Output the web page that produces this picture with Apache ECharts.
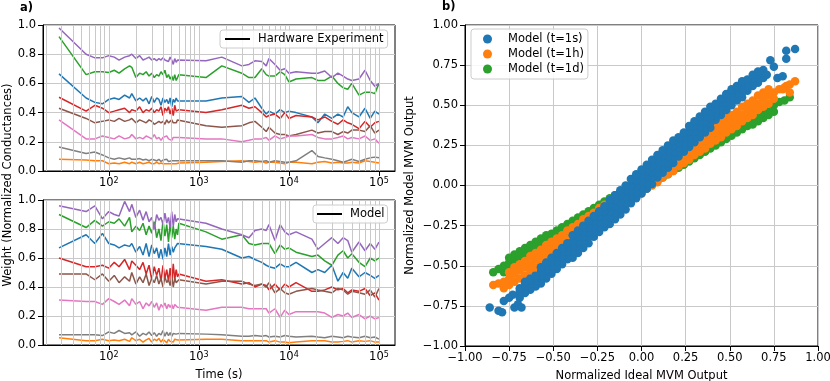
<!DOCTYPE html>
<html>
<head>
<meta charset="utf-8">
<script src="https://cdn.jsdelivr.net/npm/echarts@6/dist/echarts.min.js"></script>
<style>
  html, body { margin: 0; padding: 0; background: #fff; }
  #main { width: 830px; height: 381px; }
</style>
</head>
<body>
<div id="main"></div>
<script>
// measurement times (s)
const times = [28, 56, 70, 85, 100, 115, 130, 150, 170, 180, 200, 220, 240, 260, 280, 300, 320, 340, 360, 380,
  400, 420, 440, 460, 480, 500, 520, 540, 560, 580, 600, 1200, 1800, 3000, 3600, 4200, 5000, 5600, 6000, 7000,
  8000, 9000, 10000, 12000, 18000, 21000, 25000, 30000, 35000, 40000, 45000, 50000, 60000, 70000, 80000, 90000, 100000];

// a) hardware experiment
const hwBlue = [0.665,0.50,0.47,0.46,0.49, 0.50,0.49,0.52,0.50,0.53, 0.48,0.50,0.48,0.50,0.46, 0.51,0.47,0.50,0.49,0.45,
  0.50,0.47,0.49,0.46,0.50, 0.44,0.49,0.47,0.50,0.48, 0.47,0.48,0.50,0.51,0.47, 0.50,0.43,0.39,0.41,0.39,
  0.42,0.40,0.41,0.40,0.37, 0.33,0.39,0.36,0.39,0.37, 0.44,0.40,0.37,0.43,0.36, 0.41,0.39];
const hwOrange = [0.08,0.075,0.07,0.07,0.05, 0.055,0.05,0.06,0.05,0.06, 0.05,0.06,0.05,0.055,0.06, 0.05,0.05,0.06,0.05,0.055,
  0.05,0.06,0.05,0.055,0.05, 0.06,0.05,0.055,0.05,0.06, 0.055,0.06,0.065,0.07,0.065, 0.06,0.065,0.055,0.06,0.06,
  0.055,0.05,0.06,0.06,0.05, 0.06,0.065,0.055,0.06,0.055, 0.055,0.06,0.055,0.07,0.065, 0.06,0.055];
const hwGreen = [0.92,0.66,0.68,0.68,0.675, 0.69,0.67,0.70,0.72,0.71, 0.64,0.67,0.66,0.68,0.65, 0.67,0.64,0.66,0.65,0.68,
  0.66,0.69,0.64,0.66,0.63, 0.65,0.62,0.66,0.62,0.64, 0.66,0.64,0.72,0.67,0.64, 0.64,0.70,0.66,0.65,0.65,
  0.68,0.66,0.61,0.63,0.64, 0.62,0.62,0.65,0.60,0.57, 0.56,0.60,0.52,0.54,0.54, 0.53,0.60];
const hwRed = [0.505,0.41,0.45,0.43,0.40, 0.41,0.42,0.43,0.40,0.42, 0.41,0.44,0.40,0.42,0.41, 0.43,0.40,0.42,0.41,0.44,
  0.38,0.43,0.41,0.44,0.39, 0.43,0.38,0.45,0.41,0.42, 0.42,0.40,0.42,0.45,0.43, 0.44,0.40,0.37,0.38,0.39,
  0.36,0.40,0.36,0.38,0.37, 0.35,0.37,0.34,0.32,0.35, 0.33,0.32,0.29,0.34,0.30, 0.33,0.34];
const hwPurple = [0.98,0.80,0.775,0.775,0.79, 0.78,0.76,0.78,0.79,0.80, 0.77,0.79,0.76,0.77,0.78, 0.76,0.77,0.755,0.77,0.76,
  0.775,0.76,0.77,0.75,0.78, 0.76,0.73,0.77,0.745,0.76, 0.755,0.755,0.78,0.72,0.73, 0.755,0.75,0.72,0.77,0.73,
  0.69,0.70,0.67,0.68,0.67, 0.67,0.685,0.64,0.67,0.65, 0.63,0.62,0.63,0.69,0.62, 0.58,0.60];
const hwBrown = [0.43,0.36,0.33,0.34,0.35, 0.34,0.36,0.34,0.35,0.36, 0.33,0.35,0.34,0.33,0.35, 0.34,0.32,0.33,0.34,0.33,
  0.34,0.32,0.35,0.33,0.34, 0.35,0.33,0.34,0.33,0.35, 0.34,0.31,0.30,0.31,0.33, 0.34,0.30,0.27,0.30,0.26,
  0.25,0.25,0.24,0.25,0.28, 0.26,0.27,0.27,0.25,0.27, 0.26,0.28,0.28,0.27,0.31, 0.26,0.28];
const hwPink = [0.35,0.22,0.22,0.24,0.23, 0.22,0.24,0.22,0.23,0.25, 0.22,0.23,0.22,0.24,0.23, 0.22,0.25,0.22,0.23,0.21,
  0.23,0.22,0.24,0.22,0.23, 0.21,0.23,0.22,0.23,0.22, 0.23,0.22,0.22,0.20,0.21, 0.22,0.22,0.23,0.21,0.24,
  0.22,0.23,0.24,0.24,0.25, 0.23,0.22,0.22,0.23,0.24, 0.22,0.23,0.22,0.24,0.21, 0.22,0.19];
const hwGray = [0.165,0.12,0.13,0.11,0.09, 0.08,0.09,0.08,0.09,0.08, 0.08,0.085,0.075,0.08,0.07, 0.08,0.075,0.07,0.08,0.065,
  0.075,0.07,0.08,0.065,0.075, 0.07,0.08,0.07,0.075,0.07, 0.07,0.07,0.07,0.06,0.07, 0.07,0.065,0.07,0.06,0.07,
  0.065,0.06,0.06,0.07,0.14, 0.10,0.09,0.08,0.07,0.06, 0.07,0.08,0.065,0.08,0.09, 0.095,0.09];

// a) model
const mdBlue = [0.67,0.76,0.70,0.77,0.70, 0.69,0.67,0.69,0.68,0.70, 0.64,0.68,0.62,0.70,0.61, 0.69,0.63,0.67,0.60,0.66,
  0.59,0.67,0.61,0.70,0.62, 0.68,0.64,0.67,0.66,0.70, 0.69,0.68,0.66,0.60,0.61, 0.59,0.57,0.55,0.54,0.53,
  0.56,0.54,0.54,0.57,0.50, 0.52,0.50,0.55,0.44,0.50, 0.46,0.53,0.47,0.50,0.48, 0.46,0.48];
const mdOrange = [0.05,0.03,0.03,0.04,0.03, 0.035,0.03,0.04,0.025,0.05, 0.03,0.04,0.02,0.035,0.045, 0.02,0.04,0.03,0.045,0.02,
  0.04,0.03,0.015,0.04,0.025, 0.035,0.02,0.04,0.03,0.035, 0.04,0.04,0.04,0.03,0.03, 0.03,0.03,0.03,0.02,0.03,
  0.02,0.02,0.015,0.02,0.03, 0.03,0.03,0.02,0.02,0.025, 0.03,0.02,0.03,0.025,0.03, 0.02,0.02];
const mdGreen = [0.90,0.81,0.86,0.82,0.85, 0.84,0.87,0.82,0.88,0.78, 0.82,0.79,0.84,0.76,0.82, 0.77,0.85,0.74,0.80,0.72,
  0.86,0.75,0.83,0.71,0.84, 0.74,0.82,0.73,0.80,0.76, 0.84,0.78,0.73,0.76,0.70, 0.69,0.70,0.70,0.70,0.63,
  0.69,0.66,0.67,0.64,0.61, 0.62,0.58,0.55,0.62,0.65, 0.60,0.63,0.57,0.54,0.60, 0.58,0.60];
const mdRed = [0.60,0.54,0.54,0.55,0.53, 0.57,0.54,0.59,0.52,0.58, 0.55,0.52,0.57,0.49,0.55, 0.45,0.54,0.48,0.53,0.44,
  0.55,0.46,0.52,0.44,0.53, 0.43,0.56,0.45,0.52,0.47, 0.49,0.44,0.45,0.42,0.43, 0.40,0.42,0.41,0.38,0.42,
  0.38,0.42,0.40,0.43,0.37, 0.37,0.38,0.40,0.38,0.39, 0.36,0.38,0.37,0.39,0.34, 0.36,0.31];
const mdPurple = [0.96,0.92,0.96,0.87,0.92, 0.90,0.89,0.99,0.92,0.97, 0.88,0.93,0.86,0.92,0.85, 0.88,0.80,0.90,0.86,0.88,
  0.83,0.91,0.84,0.88,0.81, 0.92,0.82,0.90,0.85,0.87, 0.86,0.84,0.80,0.76,0.74, 0.79,0.80,0.79,0.83,0.72,
  0.83,0.78,0.76,0.78,0.73, 0.66,0.70,0.74,0.70,0.74, 0.72,0.64,0.71,0.65,0.70, 0.66,0.71];
const mdBrown = [0.49,0.49,0.45,0.49,0.44, 0.48,0.43,0.47,0.44,0.50, 0.42,0.47,0.43,0.49,0.41, 0.46,0.43,0.48,0.42,0.46,
  0.40,0.47,0.43,0.45,0.41, 0.47,0.40,0.46,0.43,0.44, 0.45,0.42,0.44,0.44,0.42, 0.41,0.42,0.40,0.43,0.36,
  0.39,0.36,0.35,0.37,0.39, 0.38,0.37,0.36,0.39,0.38, 0.35,0.37,0.36,0.35,0.38, 0.33,0.39];
const mdPink = [0.31,0.30,0.30,0.28,0.32, 0.30,0.28,0.31,0.27,0.32, 0.28,0.30,0.25,0.29,0.27, 0.30,0.26,0.29,0.24,0.28,
  0.26,0.29,0.25,0.28,0.26, 0.28,0.25,0.28,0.27,0.26, 0.26,0.24,0.26,0.26,0.25, 0.25,0.25,0.25,0.22,0.25,
  0.19,0.24,0.21,0.23,0.23, 0.23,0.22,0.19,0.21,0.20, 0.22,0.19,0.21,0.18,0.20, 0.18,0.19];
const mdGray = [0.07,0.07,0.07,0.065,0.09, 0.08,0.10,0.08,0.085,0.07, 0.09,0.06,0.08,0.07,0.09, 0.065,0.085,0.06,0.08,0.07,
  0.10,0.06,0.09,0.065,0.085, 0.06,0.08,0.07,0.075,0.07, 0.08,0.075,0.07,0.06,0.06, 0.065,0.06,0.065,0.055,0.06,
  0.055,0.065,0.06,0.055,0.06, 0.055,0.05,0.06,0.055,0.05, 0.06,0.055,0.05,0.06,0.05, 0.055,0.04];

// vertical grid lines / ticks of the log time axis
const majorTimes = [100, 1000, 10000, 100000];
const minorTimes = [20, 30, 40, 50, 60, 70, 80, 90, 200, 300, 400, 500, 600, 700, 800, 900,
  2000, 3000, 4000, 5000, 6000, 7000, 8000, 9000, 20000, 30000, 40000, 50000, 60000, 70000, 80000, 90000];

// b) scatter: ideal output (x) and model output rows across each band (y)
const scatterX = [-0.84,-0.81,-0.78,-0.75,-0.72,-0.69,-0.66,-0.63,-0.60,-0.57, -0.54,-0.51,-0.48,-0.45,-0.42,-0.39,-0.36,-0.33,-0.30,-0.27,
  -0.24,-0.21,-0.18,-0.15,-0.12,-0.09,-0.06,-0.03,0.00,0.03, 0.06,0.09,0.12,0.15,0.18,0.21,0.24,0.27,0.30,0.33,
  0.36,0.39,0.42,0.45,0.48,0.51,0.54,0.57,0.60,0.63, 0.66,0.69,0.72,0.75,0.78,0.81,0.84];
const blueRow1 = [null,null,null,null,null,-0.70,-0.67,-0.65,-0.63,-0.61, -0.58,-0.55,-0.52,-0.49,-0.46,-0.45,-0.42,-0.39,-0.36,-0.32,
  -0.29,-0.26,-0.24,-0.21,-0.18,-0.15,-0.11,-0.08,-0.05,-0.02, 0.01,0.05,0.08,0.11,0.14,0.18,0.21,0.24,0.27,0.30,
  0.33,0.36,0.41,0.44,0.47,0.50,0.53,0.55,0.59,0.62, 0.64,0.67,null,null,null,null,null];
const blueRow2 = [null,null,null,null,null,-0.68,-0.65,-0.63,-0.61,-0.59, -0.56,-0.53,-0.50,-0.47,-0.44,-0.41,-0.38,-0.35,-0.32,-0.29,
  -0.26,-0.23,-0.20,-0.17,-0.14,-0.11,-0.07,-0.04,-0.01,0.02, 0.05,0.08,0.11,0.14,0.17,0.21,0.24,0.27,0.30,0.33,
  0.36,0.39,0.43,0.47,0.50,0.53,0.55,0.58,0.61,0.63, 0.66,0.68,null,null,null,null,null];
const blueRow3 = [null,null,null,null,null,-0.66,-0.63,-0.61,-0.59,-0.56, -0.53,-0.50,-0.47,-0.44,-0.41,-0.38,-0.35,-0.32,-0.29,-0.255,
  -0.225,-0.195,-0.16,-0.13,-0.10,-0.07,-0.035,-0.005,0.025,0.055, 0.085,0.12,0.15,0.18,0.21,0.24,0.27,0.305,0.335,0.365,
  0.395,0.425,0.455,0.49,0.52,0.55,0.575,0.60,0.625,0.65, 0.675,0.70,null,null,null,null,null];
const blueRow4 = [null,null,null,null,null,-0.64,-0.61,-0.59,-0.57,-0.54, -0.50,-0.47,-0.44,-0.41,-0.38,-0.35,-0.32,-0.29,-0.26,-0.22,
  -0.19,-0.16,-0.12,-0.09,-0.06,-0.03,0.00,0.03,0.06,0.09, 0.12,0.16,0.19,0.22,0.25,0.27,0.30,0.34,0.37,0.40,
  0.43,0.46,0.48,0.52,0.55,0.58,0.60,0.63,0.64,0.67, 0.69,0.72,null,null,null,null,null];
const blueRow5 = [null,null,null,null,null,null,-0.60,-0.58,-0.56,-0.51, -0.48,-0.45,-0.42,-0.39,-0.36,-0.31,-0.28,-0.25,-0.22,-0.19,
  -0.16,-0.13,-0.09,-0.06,-0.03,0.00,0.04,0.07,0.10,0.13, 0.16,0.19,0.22,0.25,0.28,0.30,0.33,0.37,0.40,0.43,
  0.46,0.49,0.51,0.54,0.57,0.60,0.62,0.65,0.66,0.69, 0.71,null,null,null,null,null,null];
const blueOutliers = [[-0.86,-0.76],[-0.81,-0.78],[-0.79,-0.79],[-0.78,-0.72],[-0.75,-0.70],[-0.73,-0.68],[-0.72,-0.76],
  [-0.70,-0.74],[-0.68,-0.76],[0.73,0.78],[0.71,0.69],[0.75,0.74],[0.77,0.67],[0.80,0.68],[0.82,0.84],[0.82,0.79],[0.87,0.85]];
const orangeLow = [null,null,-0.64,-0.62,-0.60,-0.58,-0.56,-0.53,-0.51,-0.49, -0.46,-0.44,-0.42,-0.40,-0.37,-0.35,-0.33,-0.30,-0.28,-0.26,
  -0.23,-0.21,-0.19,-0.16,-0.14,-0.12,-0.09,-0.07,-0.05,-0.02, 0.00,0.02,0.05,0.07,0.09,0.12,0.14,0.16,0.19,0.21,
  0.23,0.26,0.28,0.30,0.33,0.35,0.37,0.40,0.42,0.44, 0.47,0.49,0.51,0.54,null,null,null];
const orangeMid = [-0.62,-0.61,-0.60,-0.58,-0.55,-0.53,-0.51,-0.49,-0.46,-0.44, -0.42,-0.40,-0.37,-0.35,-0.33,-0.30,-0.28,-0.26,-0.23,-0.21,
  -0.19,-0.16,-0.14,-0.12,-0.09,-0.07,-0.05,-0.02,0.00,0.02, 0.05,0.07,0.09,0.12,0.14,0.16,0.19,0.21,0.23,0.26,
  0.28,0.30,0.33,0.35,0.37,0.40,0.42,0.44,0.47,0.49, 0.51,0.54,0.56,0.58,0.60,0.61,0.63];
const orangeHigh = [null,null,null,-0.54,-0.51,-0.49,-0.47,-0.44,-0.42,-0.40, -0.37,-0.35,-0.33,-0.31,-0.28,-0.26,-0.24,-0.21,-0.19,-0.17,
  -0.14,-0.12,-0.10,-0.07,-0.05,-0.03,0.00,0.02,0.04,0.07, 0.09,0.11,0.14,0.16,0.18,0.21,0.23,0.25,0.28,0.30,
  0.32,0.35,0.37,0.39,0.42,0.44,0.46,0.49,0.51,0.53, 0.56,0.58,0.60,null,null,null,null];
const orangeOutliers = [[0.82,0.62],[0.87,0.65],[0.84,0.58],[0.80,0.60]];
const greenLow = [null,null,-0.54,-0.52,-0.50,-0.48,-0.46,-0.44,-0.42,-0.40, -0.38,-0.37,-0.35,-0.33,-0.31,-0.29,-0.27,-0.25,-0.23,-0.21,
  -0.19,-0.17,-0.15,-0.13,-0.11,-0.09,-0.07,-0.05,-0.03,-0.01, 0.01,0.03,0.05,0.07,0.09,0.11,0.13,0.15,0.17,0.19,
  0.21,0.23,0.25,0.27,0.29,0.31,0.33,0.35,0.37,0.38, 0.40,0.42,0.44,0.46,null,null,null];
const greenMid = [-0.54,-0.52,-0.50,-0.48,-0.46,-0.44,-0.42,-0.40,-0.38,-0.36, -0.35,-0.33,-0.31,-0.29,-0.27,-0.25,-0.23,-0.21,-0.19,-0.17,
  -0.15,-0.13,-0.11,-0.09,-0.07,-0.05,-0.03,-0.01,0.01,0.03, 0.05,0.07,0.09,0.11,0.13,0.15,0.17,0.19,0.21,0.23,
  0.25,0.27,0.29,0.31,0.33,0.35,0.37,0.39,0.41,0.42, 0.44,0.46,0.48,0.50,0.52,0.53,0.55];
const greenHigh = [null,null,null,-0.45,-0.43,-0.41,-0.39,-0.37,-0.35,-0.33, -0.31,-0.30,-0.28,-0.26,-0.24,-0.22,-0.20,-0.18,-0.16,-0.14,
  -0.12,-0.10,-0.08,-0.06,-0.04,-0.02,0.00,0.02,0.04,0.06, 0.08,0.10,0.12,0.14,0.16,0.18,0.20,0.22,0.24,0.26,
  0.28,0.30,0.32,0.34,0.36,0.38,0.40,0.42,0.44,0.45, 0.47,0.49,0.51,null,null,null,null];

const C = { blue: '#1f77b4', orange: '#ff7f0e', green: '#2ca02c', red: '#d62728', purple: '#9467bd',
  brown: '#8c564b', pink: '#e377c2', gray: '#7f7f7f' };
const FONT = 'DejaVu Sans';
const FS = 11.5;
const DOT = 8.5;

const myChart = echarts.init(document.getElementById('main'), null, { renderer: 'canvas' });

function lineSeries(values, color, xi, yi) {
  return {
    type: 'line', xAxisIndex: xi, yAxisIndex: yi, silent: true, z: 3,
    showSymbol: false, symbol: 'none',
    data: times.map((t, i) => [t, values[i]]),
    lineStyle: { width: 1.5, color: color }, itemStyle: { color: color }
  };
}
function bandPoints(rows, extra) {
  const pts = [];
  rows.forEach((row) => row.forEach((y, i) => { if (y !== null) pts.push([scatterX[i], y]); }));
  return pts.concat(extra || []);
}
function legendHost(name, xi, yi) {
  // empty series carrying the legend entry and the vertical grid lines
  return {
    name: name, type: 'line', xAxisIndex: xi, yAxisIndex: yi, z: 1, data: [],
    itemStyle: { color: '#000' }, lineStyle: { color: '#000', width: 1.5 },
    markLine: {
      silent: true, symbol: 'none', animation: false, label: { show: false },
      lineStyle: { color: '#c9c9c9', width: 1, type: 'solid' },
      data: majorTimes.concat(minorTimes).map((t) => ({ xAxis: t }))
    }
  };
}

const timeAxis = (gi, extra) => Object.assign({
  type: 'log', logBase: 10, gridIndex: gi, min: 18.6, max: 150700,
  axisLine: { show: true, onZero: false, lineStyle: { color: '#000', width: 1 } },
  axisTick: { show: true, inside: false, length: 5, lineStyle: { color: '#000' }, customValues: majorTimes },
  axisLabel: {
    color: '#000', fontFamily: FONT, fontSize: FS, margin: 6, customValues: majorTimes,
    formatter: (v) => '10{sup|' + Math.round(Math.log10(v)) + '}',
    rich: { sup: { fontSize: 8, fontFamily: FONT, color: '#000', verticalAlign: 'top', padding: [0, 0, 5, 0] } }
  },
  splitLine: { show: false }
}, extra || {});
const minorAxis = (gi) => ({
  type: 'log', logBase: 10, gridIndex: gi, min: 18.6, max: 150700,
  axisLine: { show: false },
  axisTick: { show: true, length: 3, lineStyle: { color: '#000' }, customValues: minorTimes },
  axisLabel: { show: false }, splitLine: { show: false }
});
const weightAxis = (gi) => ({
  type: 'value', gridIndex: gi, min: 0, max: 1, interval: 0.2,
  axisLine: { show: true, onZero: false, lineStyle: { color: '#000' } },
  axisTick: { show: true, length: 5, lineStyle: { color: '#000' } },
  axisLabel: { color: '#000', fontFamily: FONT, fontSize: FS, margin: 7, formatter: (v) => v.toFixed(1) },
  splitLine: { show: true, lineStyle: { color: '#c9c9c9', width: 1 } }
});
const mvmLabel = (v) => v.toFixed(2).replace('-', '\u2212');
const legendBox = {
  orient: 'vertical', backgroundColor: 'rgba(255,255,255,0.85)', borderColor: '#cccccc',
  borderWidth: 1, borderRadius: 3, selectedMode: false, z: 10,
  textStyle: { color: '#000', fontFamily: FONT, fontSize: FS, padding: [0, 0, 0, 3] }
};
const gridBox = { show: true, borderColor: '#000', borderWidth: 1, containLabel: false, outerBoundsMode: 'none' };

const option = {
  animation: false,
  textStyle: { fontFamily: FONT },
  grid: [
    Object.assign({ left: 43, top: 25, width: 352, height: 146 }, gridBox),
    Object.assign({ left: 43, top: 200, width: 352, height: 145 }, gridBox),
    Object.assign({ left: 465, top: 25, width: 353, height: 321 }, gridBox)
  ],
  xAxis: [
    timeAxis(0),
    timeAxis(1, { name: 'Time (s)', nameLocation: 'middle', nameGap: 24,
      nameTextStyle: { color: '#000', fontFamily: FONT, fontSize: FS } }),
    {
      type: 'value', gridIndex: 2, min: -1, max: 1, interval: 0.25,
      name: 'Normalized Ideal MVM Output', nameLocation: 'middle', nameGap: 24,
      nameTextStyle: { color: '#000', fontFamily: FONT, fontSize: FS },
      axisLine: { show: true, onZero: false, lineStyle: { color: '#000' } },
      axisTick: { show: true, length: 5, lineStyle: { color: '#000' } },
      axisLabel: { color: '#000', fontFamily: FONT, fontSize: FS, margin: 6, formatter: mvmLabel },
      splitLine: { show: true, lineStyle: { color: '#c9c9c9', width: 1 } }
    },
    minorAxis(0),
    minorAxis(1)
  ],
  yAxis: [
    weightAxis(0),
    weightAxis(1),
    {
      type: 'value', gridIndex: 2, min: -1, max: 1, interval: 0.25,
      name: 'Normalized Model MVM Output', nameLocation: 'middle', nameGap: 49, nameRotate: 90,
      nameMoveOverlap: false,
      nameTextStyle: { color: '#000', fontFamily: FONT, fontSize: FS },
      axisLine: { show: true, onZero: false, lineStyle: { color: '#000' } },
      axisTick: { show: true, length: 5, lineStyle: { color: '#000' } },
      axisLabel: { color: '#000', fontFamily: FONT, fontSize: FS, margin: 7, formatter: mvmLabel },
      splitLine: { show: true, lineStyle: { color: '#c9c9c9', width: 1 } }
    }
  ],
  legend: [
    Object.assign({}, legendBox, {
      data: ['Hardware Experiment'], left: 220, top: 30, padding: [3, 4, 3, 5],
      icon: 'path://M0,0H25V2H0Z', itemWidth: 25, itemHeight: 2, itemGap: 0
    }),
    Object.assign({}, legendBox, {
      data: ['Model'], left: 313, top: 205, padding: [3, 3, 3, 4],
      icon: 'path://M0,0H25V2H0Z', itemWidth: 25, itemHeight: 2, itemGap: 0
    }),
    Object.assign({}, legendBox, {
      data: ['Model (t=1s)', 'Model (t=1h)', 'Model (t=1d)'], left: 471, top: 29, padding: [4, 4, 4, 12],
      icon: 'circle', itemWidth: 9, itemHeight: 9, itemGap: 3,
      textStyle: { color: '#000', fontFamily: FONT, fontSize: FS, padding: [0, 0, 0, 11] }
    })
  ],
  graphic: [
    { type: 'text', left: 20, top: 2, style: { text: 'a)', fontFamily: FONT, fontSize: FS, fontWeight: 'bold', fill: '#000' } },
    { type: 'text', left: 442, top: 1, style: { text: 'b)', fontFamily: FONT, fontSize: FS, fontWeight: 'bold', fill: '#000' } },
    { type: 'text', x: 2, y: 185, rotation: Math.PI / 2, style: { text: 'Weight (Normalized Conductances)',
      fontFamily: FONT, fontSize: FS, fill: '#000', align: 'center', verticalAlign: 'top' } }
  ],
  series: [
    legendHost('Hardware Experiment', 0, 0),
    lineSeries(hwBlue, C.blue, 0, 0),
    lineSeries(hwOrange, C.orange, 0, 0),
    lineSeries(hwGreen, C.green, 0, 0),
    lineSeries(hwRed, C.red, 0, 0),
    lineSeries(hwPurple, C.purple, 0, 0),
    lineSeries(hwBrown, C.brown, 0, 0),
    lineSeries(hwPink, C.pink, 0, 0),
    lineSeries(hwGray, C.gray, 0, 0),
    legendHost('Model', 1, 1),
    lineSeries(mdBlue, C.blue, 1, 1),
    lineSeries(mdOrange, C.orange, 1, 1),
    lineSeries(mdGreen, C.green, 1, 1),
    lineSeries(mdRed, C.red, 1, 1),
    lineSeries(mdPurple, C.purple, 1, 1),
    lineSeries(mdBrown, C.brown, 1, 1),
    lineSeries(mdPink, C.pink, 1, 1),
    lineSeries(mdGray, C.gray, 1, 1),
    {
      name: 'Model (t=1d)', type: 'scatter', xAxisIndex: 2, yAxisIndex: 2, symbolSize: DOT, silent: true,
      itemStyle: { color: C.green, opacity: 1 }, data: bandPoints([greenLow, greenMid, greenHigh])
    },
    {
      name: 'Model (t=1h)', type: 'scatter', xAxisIndex: 2, yAxisIndex: 2, symbolSize: DOT, silent: true,
      itemStyle: { color: C.orange, opacity: 1 }, data: bandPoints([orangeLow, orangeMid, orangeHigh], orangeOutliers)
    },
    {
      name: 'Model (t=1s)', type: 'scatter', xAxisIndex: 2, yAxisIndex: 2, symbolSize: DOT, silent: true,
      itemStyle: { color: C.blue, opacity: 1 },
      data: bandPoints([blueRow1, blueRow2, blueRow3, blueRow4, blueRow5], blueOutliers)
    }
  ]
};

myChart.setOption(option);
</script>
</body>
</html>
